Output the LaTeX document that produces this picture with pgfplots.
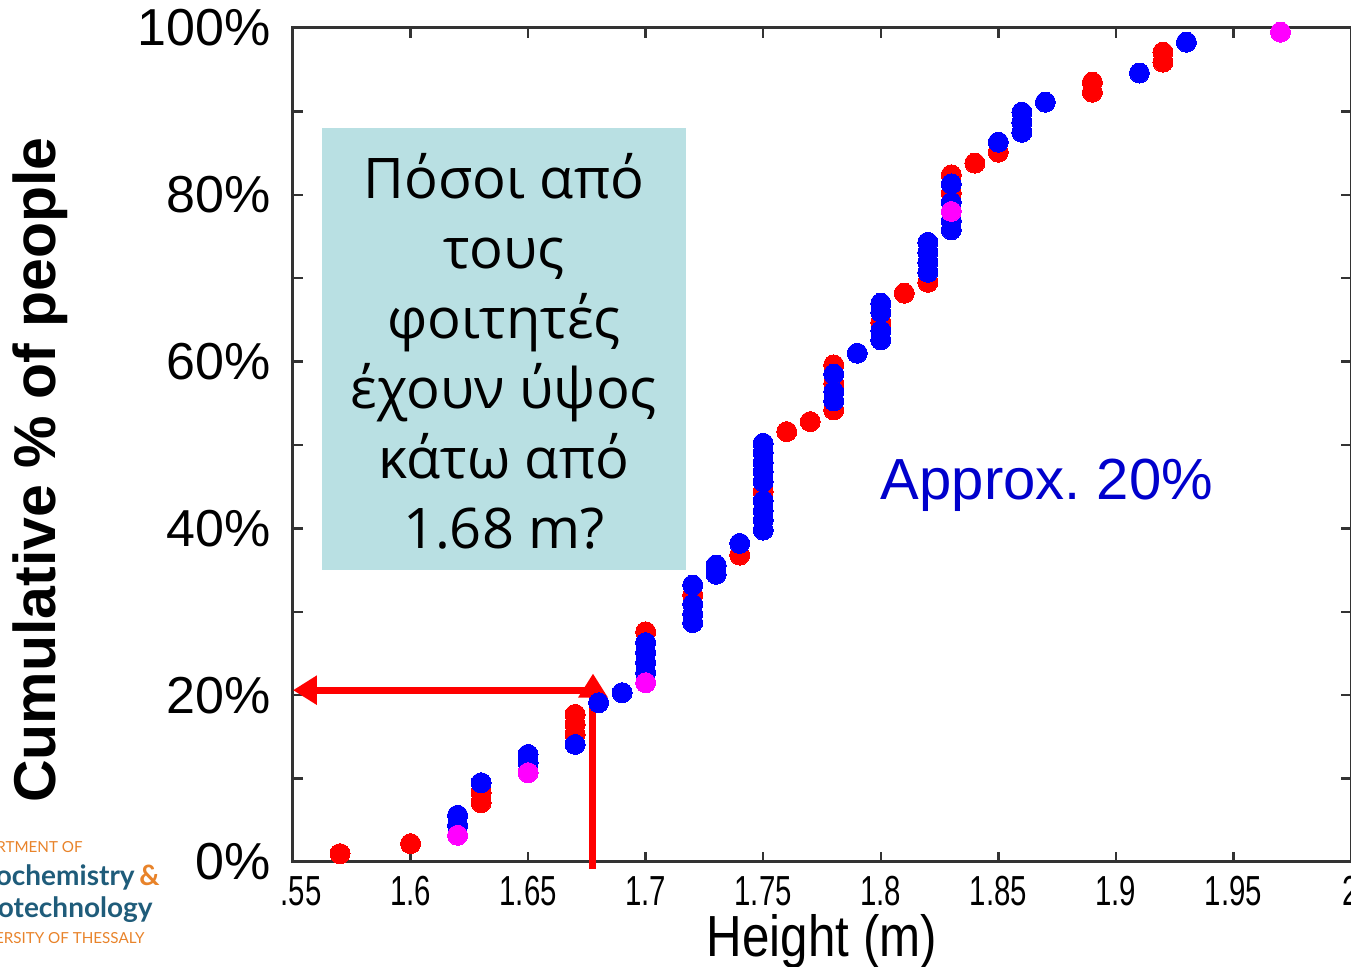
\documentclass[border=0pt]{standalone}
\usepackage{pgfplots}
\pgfplotsset{compat=1.18}
\usepackage{fontspec}
\usetikzlibrary{arrows.meta}
\setmainfont{Liberation Sans}
\newfontfamily\narrowfont[FakeStretch=0.7]{Liberation Sans}
\newfontfamily\xlabfont[FakeStretch=0.85]{Liberation Sans}
\newfontfamily\greekfont{Open Sans}
\newfontfamily\logofont{Lato}
\definecolor{boxcol}{HTML}{B9E0E3}
\definecolor{apblue}{HTML}{0000CC}
\definecolor{logoblue}{HTML}{1F5C7A}
\definecolor{logoorange}{HTML}{E8832A}
\definecolor{axcol}{HTML}{333333}
\definecolor{mred}{HTML}{FF0000}
\definecolor{mblue}{HTML}{0000FF}
\definecolor{mmag}{HTML}{FF00FF}
\begin{document}
\begin{tikzpicture}
\begin{axis}[
  scale only axis,
  width=529pt, height=417pt,
  xmin=1.55, xmax=2.0, ymin=0, ymax=100,
  clip=false,
  axis line style={axcol, line width=1.5pt},
  tick style={axcol, line width=1.2pt},
  tick align=inside,
  major tick length=5pt, minor tick length=5pt,
  xtick={1.55,1.6,1.65,1.7,1.75,1.8,1.85,1.9,1.95,2.0},
  xticklabels={\phantom{1}.55,1.6,1.65,1.7,1.75,1.8,1.85,1.9,1.95,2},
  ytick={0,20,40,60,80,100},
  yticklabels={0\%,20\%,40\%,60\%,80\%,100\%},
  minor ytick={10,30,50,70,90},
  xticklabel style={font=\narrowfont\fontsize{21pt}{24pt}\selectfont, anchor=north, inner sep=0pt, yshift=-7pt},
  yticklabel style={font=\fontsize{26pt}{30pt}\selectfont, anchor=east, inner sep=0pt, xshift=-11pt},
  xlabel={Height (m)},
  xlabel style={font=\xlabfont\fontsize{29pt}{32pt}\selectfont, at={(axis description cs:0.5,0)}, anchor=north, inner sep=0pt, yshift=-26pt},
  ylabel={Cumulative \% of people},
  ylabel style={font=\bfseries\fontsize{29.5pt}{32pt}\selectfont, at={(axis description cs:-0.239,0.47)}, anchor=center, inner sep=0pt},
]
% text box
\fill[boxcol] (axis cs:1.5623,35) rectangle (axis cs:1.7172,88);
\node[font=\greekfont\fontsize{28pt}{35pt}\selectfont, align=center, text=black] at (axis cs:1.6397,61.2)
  {Πόσοι από\\τους\\φοιτητές\\έχουν ύψος\\κάτω από\\1.68 m?};
\node[font=\fontsize{29pt}{32pt}\selectfont, text=apblue] at (axis cs:1.8707,45.2) {Approx.\ 20\%};

\addplot[mred, only marks, mark=*, mark size=5pt, mark options={draw=mred, fill=mred, line width=0pt}] table {
1.57 1.0
1.60 2.2
1.63 7.1
1.63 8.3
1.67 15.3
1.67 16.5
1.67 17.7
1.70 27.6
1.72 32.0
1.74 36.8
1.75 44.4
1.76 51.6
1.77 52.8
1.78 54.2
1.78 57.4
1.78 59.6
1.80 64.7
1.81 68.2
1.82 69.5
1.83 80.2
1.83 82.4
1.84 83.8
1.85 85.1
1.89 92.3
1.89 93.5
1.92 95.9
1.92 97.1
};
\addplot[mblue, only marks, mark=*, mark size=5pt, mark options={draw=mblue, fill=mblue, line width=0pt}] table {
1.62 4.4
1.62 5.6
1.63 9.5
1.65 11.9
1.65 12.9
1.67 14.1
1.68 19.1
1.69 20.3
1.70 22.7
1.70 23.9
1.70 25.1
1.70 26.3
1.72 28.7
1.72 29.7
1.72 30.9
1.72 33.2
1.73 34.5
1.73 35.6
1.74 38.2
1.75 39.8
1.75 41.0
1.75 42.1
1.75 43.3
1.75 45.6
1.75 46.8
1.75 47.9
1.75 49.1
1.75 50.2
1.78 55.3
1.78 56.4
1.78 58.5
1.79 61.0
1.80 62.6
1.80 63.7
1.80 65.9
1.80 67.0
1.82 70.7
1.82 71.9
1.82 73.1
1.82 74.3
1.83 75.8
1.83 76.9
1.83 79.1
1.83 81.3
1.85 86.3
1.86 87.5
1.86 88.7
1.86 89.9
1.87 91.1
1.91 94.6
1.93 98.3
};
\addplot[mmag, only marks, mark=*, mark size=5pt, mark options={draw=mmag, fill=mmag, line width=0pt}] table {
1.62 3.2
1.65 10.7
1.70 21.5
1.83 78.0
1.97 99.5
};
% arrows
\draw[mred, line width=3.5pt, -{Triangle[length=12pt,width=14pt]}] (axis cs:1.6776,-0.8) -- (axis cs:1.6776,22.6);
\draw[mred, line width=3.5pt, -{Triangle[length=12pt,width=14pt]}] (axis cs:1.6790,20.6) -- (axis cs:1.55,20.6);
\end{axis}
\begin{scope}
\clip (-146.5pt,-52.5pt) rectangle (529pt,431pt);
\node[font=\logofont\fontsize{7.6pt}{9pt}\selectfont, text=logoorange, anchor=base east, inner sep=0pt] at (-105pt,4.5pt) {DEPARTMENT OF};
\node[font=\logofont\bfseries\fontsize{14pt}{16pt}\selectfont, text=logoblue, anchor=base east, inner sep=0pt] at (-66.5pt,-12pt) {Biochemistry\,\textcolor{logoorange}{\&}};
\node[font=\logofont\bfseries\fontsize{14pt}{16pt}\selectfont, text=logoblue, anchor=base east, inner sep=0pt] at (-70pt,-28pt) {Biotechnology};
\node[font=\logofont\fontsize{7.6pt}{9pt}\selectfont, text=logoorange, anchor=base east, inner sep=0pt] at (-74pt,-41pt) {UNIVERSITY OF THESSALY};
\end{scope}
\pgfresetboundingbox
\useasboundingbox (-146.5pt,-52.5pt) rectangle (529pt,431pt);
\end{tikzpicture}
\end{document}
